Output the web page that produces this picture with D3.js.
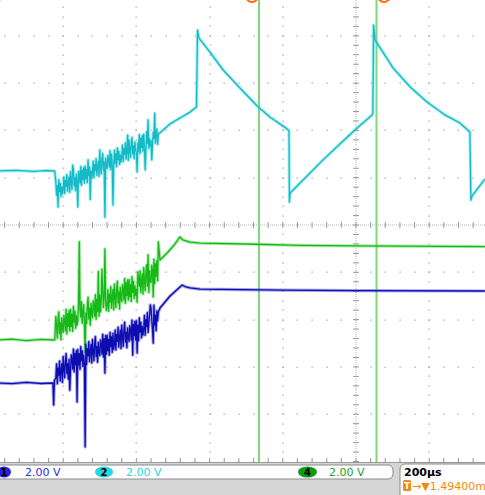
<!DOCTYPE html>
<html><head><meta charset="utf-8">
<script src="https://cdn.jsdelivr.net/npm/d3@7"></script>
<style>body{margin:0;background:#fff;overflow:hidden}svg{display:block}</style>
</head><body>
<script>
// ---- scope settings ----
const timePerDiv = 200;        // µs / div
const voltsPerDiv = 2;         // V / div (all channels)
const timeWindow = [-972.6, 352.4]; // µs visible
const divWindow = [-5.01, 4.757];   // vertical divisions visible
const noiseStart = -820, noiseStep = 2; // acquisition of the noisy section (µs)

// channel position offsets (div)
const ch1Offset = -3.34, ch2Offset = 1.142, ch4Offset = -2.431;

// ---- channel 2 (cyan) ----
const ch2Before = [[-975,0],[-930,0.03],[-880,-0.02],[-850,0.02],[-823,0]];
const ch2Noise = [
  -0.47,-1.02,-0.62,-1.52,-0.37,-0.87,-0.52,-1.07,-0.67,-0.97,
  -0.75,-0.25,-0.95,-0.40,-0.65,-0.15,-0.85,-0.50,-0.25,-0.90,
  -0.03,-0.43,-0.78,0.25,0.07,-0.63,-0.28,-0.83,-0.13,-0.48,
  -1.52,-0.01,-0.16,-0.51,0.19,-0.61,0.04,-0.36,0.14,-0.51,
  0.21,-0.34,0.06,-0.49,0.47,-0.19,0.16,-1.20,0.01,-0.29,
  -0.08,0.42,-0.28,0.27,0.02,0.52,-0.18,0.17,0.42,-0.23,
  0.89,0.24,-0.11,0.49,0.74,0.04,0.39,-1.95,0.54,0.19,
  0.11,0.66,0.51,0.16,0.86,0.06,0.71,0.31,-1.44,0.16,
  0.88,0.33,0.73,0.18,0.98,0.48,0.83,0.28,0.68,0.38,
  0.60,1.10,0.40,0.95,0.70,1.20,0.50,0.85,1.52,0.45,
  1.32,0.92,0.57,1.17,1.42,0.72,1.07,0.52,1.22,0.87,
  0.79,-0.04,1.19,0.84,1.54,0.74,1.39,0.99,1.49,0.84,
  1.56,1.01,0.05,0.86,1.66,1.16,2.16,0.96,1.36,1.06,
  1.28,0.47,1.08,1.63,1.38,2.45,1.18,1.53,1.78,1.13,
  1.56];
const ch2After = [[-535.5,1.62],[-508,1.99],[-481,2.24],[-453.5,2.49],[-435.8,2.71],
  [-433,5.96],[-429,5.62],[-399,5.03],[-363,4.27],[-317,3.51],[-270,2.75],[-235,2.28],
  [-188.5,1.78],[-183,1.69],[-182,-1.31],[-180,-0.93],[-153,-0.51],[-90,0.47],
  [-44,1.14],[3,1.82],[44,2.37],[46,2.45],[48,6.17],[52,5.54],[101,4.36],[148,3.55],
  [194,2.92],[243,2.37],[284,2.03],[311,1.65],[314,-1.23],[317,-1.06],[352,-0.34]];

// ---- channel 4 (green) ----
const ch4Before = [[-975,0],[-940,0.04],[-900,-0.03],[-860,0.03],[-823,0]];
const ch4Noise = [
  1.00,0.53,0.08,0.86,1.19,0.27,0.73,0.01,0.93,0.47,
  0.32,1.04,0.85,0.39,1.30,0.26,1.11,0.58,1.24,0.39,
  1.29,0.57,1.09,0.37,1.42,0.76,1.22,0.50,1.03,0.63,
  0.84,1.49,4.15,1.30,0.97,1.62,0.71,1.17,1.49,0.64,
  -0.55,1.15,0.70,1.48,1.81,0.89,1.35,0.63,1.55,1.09,
  0.94,1.66,1.47,1.01,1.92,0.88,1.73,1.20,2.90,1.01,
  1.91,1.19,1.71,3.00,2.04,1.38,1.84,3.85,1.65,1.25,
  1.48,2.13,1.22,1.94,1.61,2.26,1.35,1.81,2.13,1.28,
  2.36,1.83,1.38,2.16,2.49,1.57,2.03,1.31,2.23,1.77,
  1.62,2.34,2.15,1.69,2.60,1.56,2.41,1.88,2.54,1.69,
  2.55,1.83,2.35,1.63,2.68,2.02,2.48,1.76,2.29,1.89,
  2.14,1.60,2.88,2.60,2.27,2.92,2.01,2.47,2.79,1.94,
  3.06,2.53,2.08,2.86,3.19,2.27,3.60,2.01,2.93,2.47,
  2.44,3.16,2.97,1.82,3.42,2.38,3.23,2.70,3.36,2.51,
  4.15];
const ch4After = [[-535.5,3.38],[-516,3.68],[-494.5,4.06],[-481,4.36],[-473,4.23],
  [-453.5,4.14],[-426,4.10],[-300,4.06],[-153,4.0],[0,3.98],[120,3.97],[352,3.95]];

// ---- channel 1 (blue) ----
const ch1Before = [[-975,0],[-940,-0.03],[-900,0.03],[-860,-0.02],[-828,0],[-826,-0.93],[-824,0.1]];
const ch1Noise = [
  0.21,0.81,-0.03,0.63,0.33,0.93,0.09,0.51,0.81,0.03,
  1.12,0.64,0.22,0.94,1.24,0.40,0.82,0.16,1.00,-0.30,
  0.53,1.19,1.01,0.59,1.43,0.47,1.25,0.77,1.37,-0.80,
  1.42,0.76,1.24,0.58,1.54,0.94,1.36,0.70,1.18,0.82,
  -2.70,1.63,0.79,1.45,1.15,1.75,0.91,1.33,1.63,0.85,
  1.84,1.36,0.94,1.66,1.96,1.12,1.54,0.88,1.72,1.30,
  1.16,1.82,1.64,1.22,2.06,1.10,1.88,0.42,2.00,1.22,
  2.02,1.36,1.84,1.18,2.14,1.54,1.96,1.30,2.10,1.42,
  1.64,2.24,1.40,2.06,1.76,2.36,1.52,1.94,2.24,1.46,
  2.45,1.97,1.55,2.27,2.57,1.73,2.15,1.49,2.33,1.91,
  1.76,2.42,2.24,1.82,2.66,1.18,2.48,2.00,2.60,1.82,
  2.63,1.27,2.45,1.79,2.75,2.15,2.57,1.91,2.39,2.03,
  2.26,2.86,2.02,2.68,2.38,2.98,2.14,2.56,2.86,3.30,
  3.17,2.69,2.27,1.69,3.29,2.45,2.87,2.21,3.05,2.63,
  3.00];
const ch1After = [[-535.5,3.17],[-508,3.68],[-475,4.14],[-464.5,4.06],[-453.5,4.02],
  [-426,3.97],[-200,3.93],[0,3.91],[352,3.89]];

const cursorTimes = [-265, 56];
const markerTimes = [-284, 76.5];

const W = 485, H = 495, plotBottom = 462;
const svg = d3.select("body").append("svg").attr("width", W).attr("height", H);

const x = d3.scaleLinear().domain(timeWindow).range([0, W]);
const yDiv = d3.scaleLinear().domain(divWindow).range([plotBottom, 0]);

// ---- graticule ----
const g = svg.append("g");
const vLines = d3.range(-1000, 400, timePerDiv).filter(t => t !== 0);
const hLines = d3.range(-5, 5).filter(d => d !== 0);
const dotCol = "#a8a8a8";
vLines.forEach(t => {
  for (let d = -5; d <= 5; d += 0.2) {
    const yy = yDiv(d);
    if (yy < 0 || yy > plotBottom - 1) continue;
    g.append("rect").attr("x", Math.round(x(t)) - 0.5).attr("y", Math.round(yy) - 0.5).attr("width", 1.3).attr("height", 1.3).attr("fill", dotCol);
  }
});
hLines.forEach(d => {
  for (let t = -1000; t <= 400; t += timePerDiv / 5) {
    const xx = x(t);
    if (xx < 0 || xx > W) continue;
    g.append("rect").attr("x", Math.round(xx) - 0.5).attr("y", Math.round(yDiv(d)) - 0.5).attr("width", 1.3).attr("height", 1.3).attr("fill", dotCol);
  }
});
// center axes
g.append("line").attr("x1", 0).attr("x2", W).attr("y1", yDiv(0)).attr("y2", yDiv(0)).attr("stroke", "#b8b8b8").attr("stroke-dasharray", "1,1");
g.append("line").attr("x1", x(0)).attr("x2", x(0)).attr("y1", 0).attr("y2", plotBottom).attr("stroke", "#b8b8b8").attr("stroke-dasharray", "1,1");
for (let t = -1000; t <= 400; t += timePerDiv / 5) {
  g.append("line").attr("x1", x(t)).attr("x2", x(t)).attr("y1", yDiv(0) - 3).attr("y2", yDiv(0) + 3).attr("stroke", "#999");
  g.append("line").attr("x1", x(t)).attr("x2", x(t)).attr("y1", plotBottom - 4).attr("y2", plotBottom).attr("stroke", "#999");
}
for (let d = -5; d <= 5; d += 0.2) {
  g.append("line").attr("x1", x(0) - 3).attr("x2", x(0) + 3).attr("y1", yDiv(d)).attr("y2", yDiv(d)).attr("stroke", "#999");
}
g.append("line").attr("x1", 0).attr("x2", W).attr("y1", plotBottom + 0.5).attr("y2", plotBottom + 0.5).attr("stroke", "#999");

// ---- cursors ----
cursorTimes.forEach(t => {
  svg.append("line").attr("x1", x(t)).attr("x2", x(t)).attr("y1", 0).attr("y2", plotBottom)
    .attr("stroke", "#7ed87e").attr("stroke-width", 2);
});
markerTimes.forEach(t => {
  svg.append("circle").attr("cx", x(t)).attr("cy", -4).attr("r", 6).attr("fill", "none").attr("stroke", "#ff6a10").attr("stroke-width", 2);
});
svg.append("circle").attr("cx", -3).attr("cy", -3).attr("r", 5).attr("fill", "#ffa020");

// ---- traces ----
function buildTrace(before, noise, after) {
  const pts = before.slice();
  noise.forEach((v, i) => pts.push([noiseStart + i * noiseStep, v]));
  return pts.concat(after);
}
const traces = [
  {data: buildTrace(ch4Before, ch4Noise, ch4After), off: ch4Offset, core: "#18b818", halo: "#50dc50"},
  {data: buildTrace(ch1Before, ch1Noise, ch1After), off: ch1Offset, core: "#0e0eb0", halo: "#4646dc"},
  {data: buildTrace(ch2Before, ch2Noise, ch2After), off: ch2Offset, core: "#16bac6", halo: "#40dce6"}
];
traces.forEach(tr => {
  const line = d3.line().x(d => x(d[0])).y(d => yDiv(tr.off + d[1] / voltsPerDiv));
  svg.append("path").attr("d", line(tr.data)).attr("fill", "none").attr("stroke", tr.halo).attr("stroke-width", 3.2).attr("stroke-opacity", 0.5).attr("stroke-linejoin", "round");
  svg.append("path").attr("d", line(tr.data)).attr("fill", "none").attr("stroke", tr.core).attr("stroke-width", 1.3).attr("stroke-linejoin", "round");
});

// ---- status bar ----
svg.append("rect").attr("x", 0).attr("y", plotBottom + 1).attr("width", W).attr("height", H - plotBottom).attr("fill", "#d6d6d6");
svg.append("rect").attr("x", -6).attr("y", 465).attr("width", 399).attr("height", 14).attr("rx", 5).attr("fill", "#fff").attr("stroke", "#8a8a8a");
svg.append("rect").attr("x", 400).attr("y", 464).attr("width", 95).attr("height", 36).attr("rx", 5).attr("fill", "#fff").attr("stroke", "#8a8a8a");

const chLabels = [
  {num: "1", cx: 4, bx: 25, badge: "#2424e0", text: "#2e2ee6", label: "2.00 V", rx: 7},
  {num: "2", cx: 104, bx: 126, badge: "#26d6e0", text: "#30d4e0", label: "2.00 V", rx: 9},
  {num: "4", cx: 307.5, bx: 329, badge: "#129a12", text: "#22a022", label: "2.00 V", rx: 9.5}
];
chLabels.forEach(c => {
  svg.append("ellipse").attr("cx", c.cx).attr("cy", 472).attr("rx", c.rx).attr("ry", 5.5).attr("fill", c.badge);
  svg.append("text").attr("x", c.cx).attr("y", 476).attr("text-anchor", "middle").attr("font-family", "DejaVu Sans, sans-serif").attr("font-size", 10).attr("font-weight", "bold").attr("fill", "#000").text(c.num);
  svg.append("text").attr("x", c.bx).attr("y", 476).attr("font-family", "DejaVu Sans, sans-serif").attr("font-size", 11).attr("fill", c.text).text(c.label);
});
svg.append("text").attr("x", 404).attr("y", 476).attr("font-family", "DejaVu Sans, sans-serif").attr("font-size", 11).attr("font-weight", "bold").attr("fill", "#000").text("200µs");
svg.append("rect").attr("x", 403).attr("y", 480).attr("width", 8).attr("height", 11).attr("rx", 1.5).attr("fill", "#f08a10");
svg.append("text").attr("x", 407).attr("y", 489).attr("text-anchor", "middle").attr("font-family", "DejaVu Sans, sans-serif").attr("font-size", 9).attr("font-weight", "bold").attr("fill", "#fff").text("T");
svg.append("text").attr("x", 412).attr("y", 490).attr("font-family", "DejaVu Sans, sans-serif").attr("font-size", 11).attr("fill", "#f08a10").text("→▼1.49400m");
</script>
</body></html>
